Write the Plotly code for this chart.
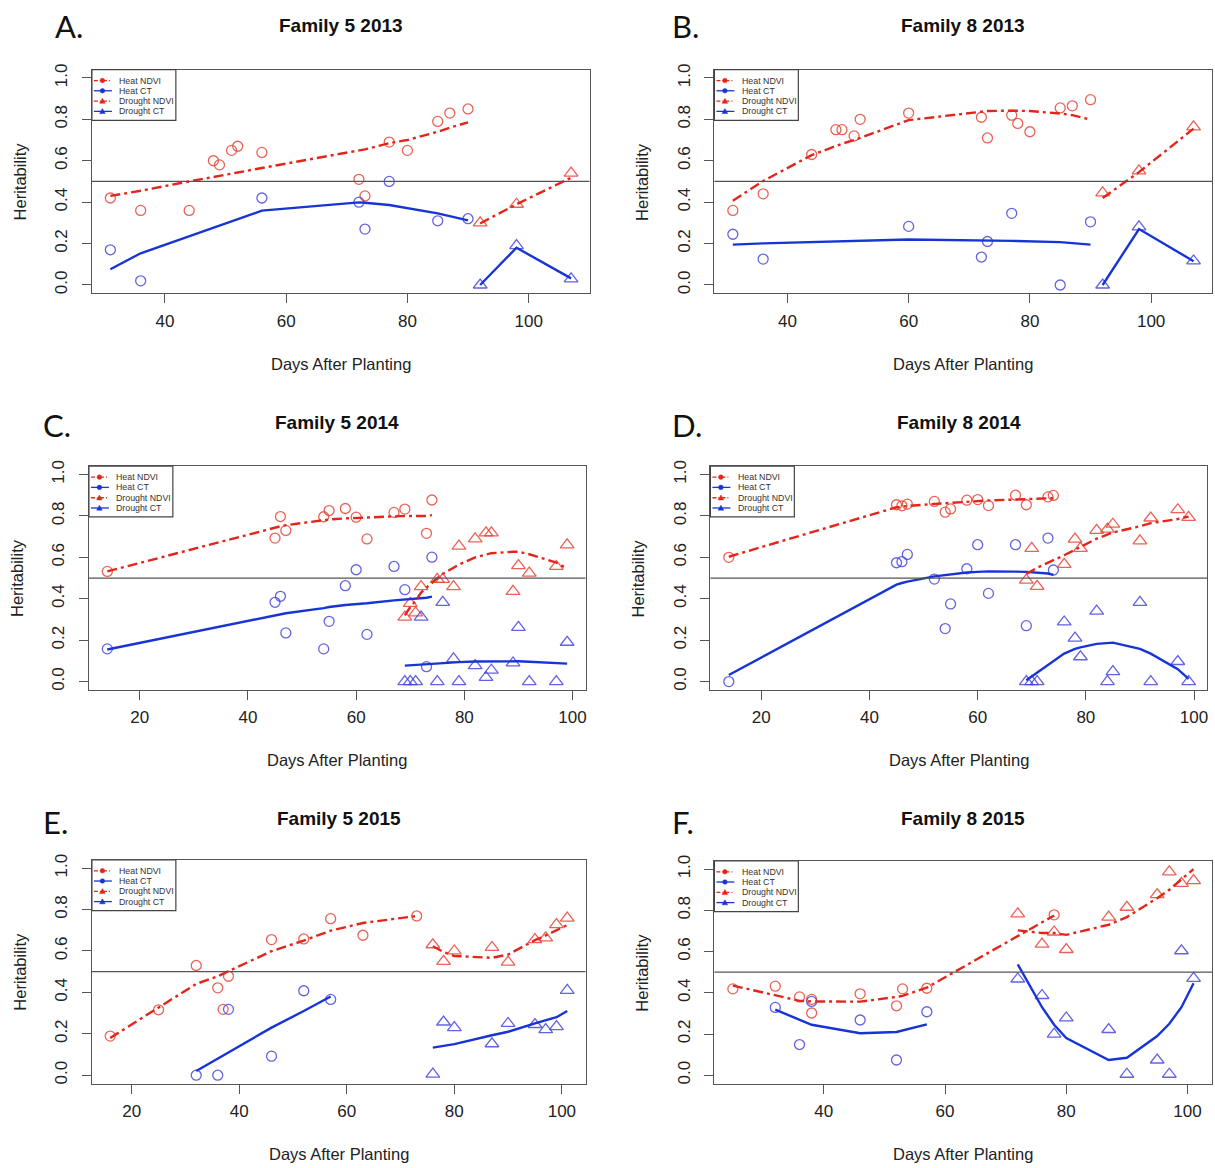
import plotly.graph_objects as go

W, H = 1215, 1168

# ---------------- Family 5 2013 ----------------
a_heat_ndvi_day = [31, 36, 44, 48, 49, 51, 52, 56, 72, 73, 77, 80, 85, 87, 90]
a_heat_ndvi_h2 = [0.42, 0.36, 0.36, 0.60, 0.58, 0.65, 0.67, 0.64, 0.51, 0.43, 0.69, 0.65, 0.79, 0.83, 0.85]
a_heat_ndvi_fit = [0.43, 0.455, 0.50, 0.52, 0.527, 0.537, 0.543, 0.565, 0.65, 0.655, 0.685, 0.70, 0.74, 0.76, 0.785]
a_heat_ct_day = [31, 36, 56, 72, 73, 77, 85, 90]
a_heat_ct_h2 = [0.17, 0.02, 0.42, 0.40, 0.27, 0.50, 0.31, 0.32]
a_heat_ct_fit = [0.076, 0.153, 0.359, 0.399, 0.397, 0.386, 0.346, 0.312]
a_dr_ndvi_day = [92, 98, 107]
a_dr_ndvi_h2 = [0.30, 0.39, 0.54]
a_dr_ndvi_fit = [0.297, 0.39, 0.518]
a_dr_ct_day = [92, 98, 107]
a_dr_ct_h2 = [0.0, 0.19, 0.03]
a_dr_ct_fit = [0.0, 0.18, 0.032]

# ---------------- Family 8 2013 ----------------
b_heat_ndvi_day = [31, 36, 44, 48, 49, 51, 52, 60, 72, 73, 77, 78, 80, 85, 87, 90]
b_heat_ndvi_h2 = [0.36, 0.44, 0.63, 0.75, 0.75, 0.72, 0.80, 0.83, 0.81, 0.71, 0.82, 0.78, 0.74, 0.855, 0.865, 0.895]
b_heat_ndvi_fit = [0.407, 0.502, 0.627, 0.672, 0.682, 0.70, 0.71, 0.796, 0.839, 0.84, 0.842, 0.842, 0.84, 0.828, 0.82, 0.799]
b_heat_ct_day = [31, 36, 60, 72, 73, 77, 85, 90]
b_heat_ct_h2 = [0.245, 0.125, 0.283, 0.135, 0.21, 0.346, 0.0, 0.305]
b_heat_ct_fit = [0.195, 0.201, 0.22, 0.217, 0.216, 0.213, 0.207, 0.195]
b_dr_ndvi_day = [92, 98, 107]
b_dr_ndvi_h2 = [0.445, 0.551, 0.764]
b_dr_ndvi_fit = [0.42, 0.545, 0.755]
b_dr_ct_day = [92, 98, 107]
b_dr_ct_h2 = [0.0, 0.281, 0.116]
b_dr_ct_fit = [0.0, 0.27, 0.115]

# ---------------- Family 5 2014 ----------------
c_heat_day = [14, 45, 46, 47, 54, 55, 58, 60, 62, 67, 69, 73, 74]
c_heat_ndvi_h2 = [0.532, 0.693, 0.797, 0.730, 0.796, 0.826, 0.836, 0.794, 0.689, 0.817, 0.833, 0.716, 0.877]
c_heat_ndvi_fit = [0.532, 0.746, 0.75, 0.755, 0.78, 0.783, 0.788, 0.79, 0.794, 0.80, 0.80, 0.80, 0.804]
c_heat_ct_h2 = [0.158, 0.383, 0.412, 0.235, 0.158, 0.291, 0.463, 0.54, 0.228, 0.556, 0.444, 0.072, 0.601]
c_heat_ct_fit = [0.155, 0.318, 0.325, 0.33, 0.355, 0.36, 0.37, 0.373, 0.378, 0.392, 0.396, 0.405, 0.41]
c_dr_day = [69, 70, 71, 72, 75, 76, 78, 79, 82, 84, 85, 89, 90, 92, 97, 99]
c_dr_ndvi_h2 = [0.311, 0.378, 0.332, 0.459, 0.494, 0.494, 0.459, 0.654, 0.689, 0.718, 0.718, 0.436, 0.56, 0.524, 0.556, 0.66]
c_dr_ndvi_fit = [0.32, 0.36, 0.39, 0.43, 0.50, 0.52, 0.55, 0.565, 0.60, 0.615, 0.62, 0.627, 0.627, 0.615, 0.575, 0.545]
c_dr_ct_h2 = [0.0, 0.0, 0.0, 0.311, 0.0, 0.383, 0.11, 0.0, 0.077, 0.02, 0.055, 0.09, 0.262, 0.0, 0.0, 0.19]
c_dr_ct_fit = [0.077, 0.079, 0.081, 0.083, 0.088, 0.09, 0.093, 0.094, 0.097, 0.098, 0.099, 0.099, 0.098, 0.096, 0.09, 0.087]

# ---------------- Family 8 2014 ----------------
d_heat_day = [14, 45, 46, 47, 52, 54, 55, 58, 60, 62, 67, 69, 73, 74]
d_heat_ndvi_h2 = [0.60, 0.854, 0.849, 0.857, 0.87, 0.818, 0.834, 0.876, 0.879, 0.85, 0.90, 0.854, 0.892, 0.899]
d_heat_ndvi_fit = [0.603, 0.842, 0.845, 0.848, 0.858, 0.862, 0.864, 0.869, 0.872, 0.875, 0.879, 0.881, 0.884, 0.886]
d_heat_ct_h2 = [0.0, 0.574, 0.579, 0.614, 0.495, 0.256, 0.375, 0.545, 0.661, 0.426, 0.661, 0.27, 0.693, 0.539]
d_heat_ct_fit = [0.032, 0.468, 0.476, 0.483, 0.508, 0.515, 0.518, 0.527, 0.53, 0.532, 0.531, 0.53, 0.522, 0.515]
d_dr_day = [69, 70, 71, 76, 78, 79, 82, 84, 85, 90, 92, 97, 99]
d_dr_ndvi_h2 = [0.49, 0.643, 0.46, 0.566, 0.688, 0.643, 0.73, 0.736, 0.76, 0.68, 0.79, 0.83, 0.793]
d_dr_ndvi_fit = [0.52, 0.535, 0.55, 0.61, 0.635, 0.65, 0.69, 0.71, 0.72, 0.75, 0.765, 0.785, 0.797]
d_dr_ct_h2 = [0.0, 0.0, 0.0, 0.288, 0.21, 0.12, 0.34, 0.0, 0.048, 0.383, 0.0, 0.097, 0.0]
d_dr_ct_fit = [0.006, 0.025, 0.04, 0.135, 0.158, 0.165, 0.182, 0.188, 0.188, 0.158, 0.135, 0.06, 0.013]

# ---------------- Family 5 2015 ----------------
e_heat_ndvi_day = [16, 25, 32, 36, 37, 38, 46, 52, 57, 63, 73]
e_heat_ndvi_h2 = [0.189, 0.316, 0.53, 0.422, 0.318, 0.478, 0.655, 0.658, 0.756, 0.676, 0.769]
e_heat_ndvi_fit = [0.18, 0.326, 0.441, 0.478, 0.49, 0.503, 0.599, 0.65, 0.698, 0.735, 0.769]
e_heat_ct_day = [32, 36, 38, 46, 52, 57]
e_heat_ct_h2 = [0.0, 0.0, 0.318, 0.092, 0.408, 0.366]
e_heat_ct_fit = [0.02, 0.08, 0.11, 0.23, 0.31, 0.38]
e_dr_day = [76, 78, 80, 87, 90, 95, 97, 99, 101]
e_dr_ndvi_h2 = [0.63, 0.55, 0.60, 0.617, 0.546, 0.655, 0.663, 0.727, 0.759]
e_dr_ndvi_fit = [0.623, 0.595, 0.576, 0.567, 0.583, 0.652, 0.675, 0.70, 0.725]
e_dr_ct_h2 = [0.005, 0.257, 0.23, 0.152, 0.25, 0.245, 0.22, 0.235, 0.41]
e_dr_ct_fit = [0.133, 0.142, 0.15, 0.193, 0.21, 0.25, 0.265, 0.28, 0.31]

# ---------------- Family 8 2015 ----------------
f_heat_ndvi_day = [25, 32, 36, 38, 38, 46, 52, 53, 57, 78]
f_heat_ndvi_h2 = [0.419, 0.432, 0.38, 0.368, 0.302, 0.395, 0.337, 0.419, 0.422, 0.778]
f_heat_ndvi_fit = [0.435, 0.39, 0.361, 0.358, 0.358, 0.357, 0.38, 0.385, 0.425, 0.775]
f_heat_ct_day = [32, 36, 38, 46, 52, 57]
f_heat_ct_h2 = [0.329, 0.149, 0.358, 0.268, 0.074, 0.308]
f_heat_ct_fit = [0.318, 0.27, 0.245, 0.204, 0.21, 0.247]
f_dr_day = [72, 76, 78, 80, 87, 90, 95, 97, 99, 101]
f_dr_ndvi_h2 = [0.783, 0.636, 0.695, 0.61, 0.767, 0.815, 0.876, 0.987, 0.931, 0.944]
f_dr_ndvi_fit = [0.703, 0.69, 0.69, 0.681, 0.73, 0.767, 0.859, 0.90, 0.95, 1.0]
f_dr_ct_h2 = [0.467, 0.387, 0.2, 0.278, 0.222, 0.005, 0.074, 0.005, 0.604, 0.47]
f_dr_ct_fit = [0.538, 0.33, 0.245, 0.181, 0.074, 0.085, 0.19, 0.25, 0.33, 0.446]

y_ticks = [0.0, 0.2, 0.4, 0.6, 0.8, 1.0]
legend_labels = ["Heat NDVI", "Heat CT", "Drought NDVI", "Drought CT"]

RED_PT = "rgba(232,70,58,0.85)"
RED_LN = "#e3261b"
BLUE_PT = "rgba(72,72,222,0.85)"
BLUE_LN = "#1734d6"
FRAME = "#555555"
DASHDOT = "10px,4px,3px,4px"

# panel frames in pixels: left, top, right, bottom
panels = [
    dict(letter="A.", title="Family 5 2013", box=(92, 64, 590, 289), letter_pos=(53, 20), title_y=20,
         series=[(a_heat_ndvi_day, a_heat_ndvi_h2, a_heat_ndvi_fit, "ndvi", "circle"),
                 (a_heat_ct_day, a_heat_ct_h2, a_heat_ct_fit, "ct", "circle"),
                 (a_dr_ndvi_day, a_dr_ndvi_h2, a_dr_ndvi_fit, "ndvi", "triangle-up"),
                 (a_dr_ct_day, a_dr_ct_h2, a_dr_ct_fit, "ct", "triangle-up")]),
    dict(letter="B.", title="Family 8 2013", box=(715, 64, 1213, 289), letter_pos=(671, 20), title_y=20,
         series=[(b_heat_ndvi_day, b_heat_ndvi_h2, b_heat_ndvi_fit, "ndvi", "circle"),
                 (b_heat_ct_day, b_heat_ct_h2, b_heat_ct_fit, "ct", "circle"),
                 (b_dr_ndvi_day, b_dr_ndvi_h2, b_dr_ndvi_fit, "ndvi", "triangle-up"),
                 (b_dr_ct_day, b_dr_ct_h2, b_dr_ct_fit, "ct", "triangle-up")]),
    dict(letter="C.", title="Family 5 2014", box=(89, 463, 586, 688), letter_pos=(41, 422), title_y=419,
         series=[(c_heat_day, c_heat_ndvi_h2, c_heat_ndvi_fit, "ndvi", "circle"),
                 (c_heat_day, c_heat_ct_h2, c_heat_ct_fit, "ct", "circle"),
                 (c_dr_day, c_dr_ndvi_h2, c_dr_ndvi_fit, "ndvi", "triangle-up"),
                 (c_dr_day, c_dr_ct_h2, c_dr_ct_fit, "ct", "triangle-up")]),
    dict(letter="D.", title="Family 8 2014", box=(711, 463, 1208, 688), letter_pos=(671, 422), title_y=419,
         series=[(d_heat_day, d_heat_ndvi_h2, d_heat_ndvi_fit, "ndvi", "circle"),
                 (d_heat_day, d_heat_ct_h2, d_heat_ct_fit, "ct", "circle"),
                 (d_dr_day, d_dr_ndvi_h2, d_dr_ndvi_fit, "ndvi", "triangle-up"),
                 (d_dr_day, d_dr_ct_h2, d_dr_ct_fit, "ct", "triangle-up")]),
    dict(letter="E.", title="Family 5 2015", box=(92, 859, 586, 1084), letter_pos=(41, 821), title_y=817,
         series=[(e_heat_ndvi_day, e_heat_ndvi_h2, e_heat_ndvi_fit, "ndvi", "circle"),
                 (e_heat_ct_day, e_heat_ct_h2, e_heat_ct_fit, "ct", "circle"),
                 (e_dr_day, e_dr_ndvi_h2, e_dr_ndvi_fit, "ndvi", "triangle-up"),
                 (e_dr_day, e_dr_ct_h2, e_dr_ct_fit, "ct", "triangle-up")]),
    dict(letter="F.", title="Family 8 2015", box=(715, 860, 1213, 1084), letter_pos=(671, 821), title_y=817,
         series=[(f_heat_ndvi_day, f_heat_ndvi_h2, f_heat_ndvi_fit, "ndvi", "circle"),
                 (f_heat_ct_day, f_heat_ct_h2, f_heat_ct_fit, "ct", "circle"),
                 (f_dr_day, f_dr_ndvi_h2, f_dr_ndvi_fit, "ndvi", "triangle-up"),
                 (f_dr_day, f_dr_ct_h2, f_dr_ct_fit, "ct", "triangle-up")]),
]


def fx(p):
    return p / W


def fy(p):
    return 1 - p / H


fig = go.Figure()
layout = dict(
    width=W, height=H, margin=dict(l=0, r=0, t=0, b=0),
    paper_bgcolor="white", plot_bgcolor="white", showlegend=False,
    font=dict(family="Liberation Sans, Arial, sans-serif", color="#222"),
)
annotations = []
shapes = []

for i, p in enumerate(panels, start=1):
    xa = "x" if i == 1 else f"x{i}"
    ya = "y" if i == 1 else f"y{i}"
    l, t, r, b = p["box"]

    # R-style 4% padding around the day range
    all_days = [d for s in p["series"] for d in s[0]]
    lo, hi = min(all_days), max(all_days)
    pad = 0.04 * (hi - lo)

    layout["xaxis" if i == 1 else f"xaxis{i}"] = dict(
        domain=[fx(l), fx(r)], anchor=ya, range=[lo - pad, hi + pad],
        tick0=0, dtick=20, ticks="outside", ticklen=9, tickwidth=1, tickcolor=FRAME,
        showline=True, linecolor=FRAME, linewidth=1.2, mirror=True,
        showgrid=False, zeroline=False, ticklabelstandoff=3,
        tickfont=dict(size=17, color="#222"),
    )
    layout["yaxis" if i == 1 else f"yaxis{i}"] = dict(
        domain=[fy(b), fy(t)], anchor=xa, range=[-0.04, 1.04],
        tickvals=y_ticks, ticktext=[f"{v:.1f}" for v in y_ticks], tickangle=-90,
        ticks="outside", ticklen=9, tickwidth=1, tickcolor=FRAME,
        showline=True, linecolor=FRAME, linewidth=1.2, mirror=True,
        showgrid=False, zeroline=False, ticklabelstandoff=8,
        tickfont=dict(size=17, color="#222"),
    )

    # reference line at heritability 0.5
    shapes.append(dict(type="line", xref=f"{xa} domain", yref=ya, x0=0, x1=1, y0=0.5, y1=0.5,
                       line=dict(color=FRAME, width=1.3)))

    for days, h2, fit, kind, sym in p["series"]:
        pt_col = RED_PT if kind == "ndvi" else BLUE_PT
        fig.add_trace(go.Scatter(
            x=days, y=h2, mode="markers", xaxis=xa, yaxis=ya,
            marker=dict(symbol=sym + "-open", size=10 if sym == "circle" else 12,
                        color=pt_col, line=dict(width=1.3, color=pt_col)),
        ))
    for days, h2, fit, kind, sym in p["series"]:
        fig.add_trace(go.Scatter(
            x=days, y=fit, mode="lines", xaxis=xa, yaxis=ya,
            line=dict(color=RED_LN if kind == "ndvi" else BLUE_LN, width=2.4,
                      dash=DASHDOT if kind == "ndvi" else "solid"),
        ))

    # panel letter, title and axis titles
    lx, ly = p["letter_pos"]
    annotations.append(dict(text=p["letter"], x=fx(lx), y=fy(ly), xref="paper", yref="paper",
                            xanchor="left", yanchor="middle", showarrow=False,
                            font=dict(family="Lato, Open Sans, sans-serif", size=31, color="#111")))
    annotations.append(dict(text=f"<b>{p['title']}</b>", x=fx((l + r) / 2), y=fy(p["title_y"]),
                            xref="paper", yref="paper", xanchor="center", yanchor="middle",
                            showarrow=False, font=dict(size=19, color="#111")))
    annotations.append(dict(text="Heritability", x=fx(l - 72), y=fy((t + b) / 2), xref="paper",
                            yref="paper", xanchor="center", yanchor="middle", textangle=-90,
                            showarrow=False, font=dict(size=16.5, color="#222")))
    annotations.append(dict(text="Days After Planting", x=fx((l + r) / 2), y=fy(b + 71),
                            xref="paper", yref="paper", xanchor="center", yanchor="middle",
                            showarrow=False, font=dict(size=16.5, color="#222")))

    # key box in the upper-left corner
    shapes.append(dict(type="rect", xref="paper", yref="paper", x0=fx(l), x1=fx(l + 84),
                       y0=fy(t + 51), y1=fy(t), line=dict(color="#444", width=1.2),
                       fillcolor="white", layer="above"))
    row_y = [t + 11, t + 21.3, t + 31.7, t + 42]
    for k, (lab, ry) in enumerate(zip(legend_labels, row_y)):
        is_ndvi = k in (0, 2)
        col = RED_LN if is_ndvi else BLUE_LN
        shapes.append(dict(type="line", xref="paper", yref="paper", x0=fx(l + 2), x1=fx(l + 20),
                           y0=fy(ry), y1=fy(ry), layer="above",
                           line=dict(color=col, width=1.3, dash="4px,2px,1px,2px" if is_ndvi else "solid")))
        cx = l + 10.5
        if k < 2:
            shapes.append(dict(type="circle", xref="paper", yref="paper", x0=fx(cx - 2.3), x1=fx(cx + 2.3),
                               y0=fy(ry + 2.3), y1=fy(ry - 2.3), fillcolor=col,
                               line=dict(color=col, width=0.5), layer="above"))
        else:
            path = (f"M {fx(cx - 2.8)},{fy(ry + 2.2)} L {fx(cx + 2.8)},{fy(ry + 2.2)} "
                    f"L {fx(cx)},{fy(ry - 2.8)} Z")
            shapes.append(dict(type="path", xref="paper", yref="paper", path=path, fillcolor=col,
                               line=dict(color=col, width=0.5), layer="above"))
        annotations.append(dict(text=lab, x=fx(l + 25.5), y=fy(ry), xref="paper", yref="paper",
                                xanchor="left", yanchor="middle", showarrow=False,
                                font=dict(size=8.8, color="#333")))

layout["annotations"] = annotations
layout["shapes"] = shapes
fig.update_layout(**layout)
fig.write_html("out.html")
